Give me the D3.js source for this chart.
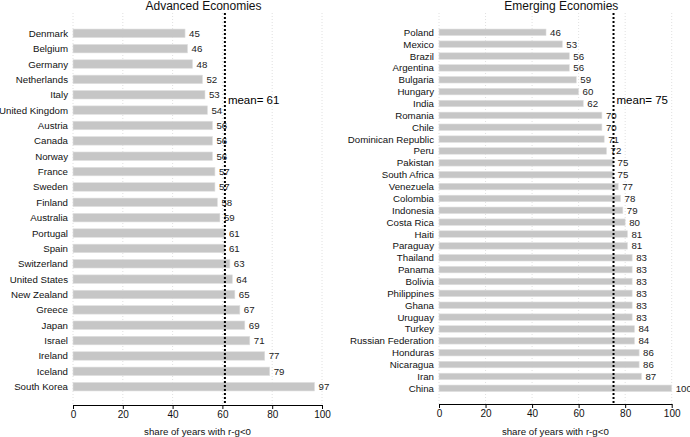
<!DOCTYPE html>
<html><head><meta charset="utf-8">
<script src="https://cdn.jsdelivr.net/npm/d3@7"></script>
<style>body{margin:0;background:#fff}svg{display:block;font-family:"Liberation Sans",Arial,Helvetica,sans-serif}</style>
</head><body>
<svg id="c" width="690" height="437"></svg>
<script>
const advCountries = ["Denmark","Belgium","Germany","Netherlands","Italy","United Kingdom","Austria","Canada","Norway","France","Sweden","Finland","Australia","Portugal","Spain","Switzerland","United States","New Zealand","Greece","Japan","Israel","Ireland","Iceland","South Korea"];
const advValues = [45,46,48,52,53,54,56,56,56,57,57,58,59,61,61,63,64,65,67,69,71,77,79,97];
const advMean = 61;
const emCountries = ["Poland","Mexico","Brazil","Argentina","Bulgaria","Hungary","India","Romania","Chile","Dominican Republic","Peru","Pakistan","South Africa","Venezuela","Colombia","Indonesia","Costa Rica","Haiti","Paraguay","Thailand","Panama","Bolivia","Philippines","Ghana","Uruguay","Turkey","Russian Federation","Honduras","Nicaragua","Iran","China"];
const emValues = [46,53,56,56,59,60,62,70,70,71,72,75,75,77,78,79,80,81,81,83,83,83,83,83,83,84,84,86,86,87,100];
const emMean = 75;
const xTicks = [0,20,40,60,80,100];
const titles = ["Advanced Economies","Emerging Economies"];
const axisTitle = "share of years with r-g<0";

const svg = d3.select("#c");

function panel(cfg){
  const g = svg.append("g");
  const x = d3.scaleLinear().domain([0,100]).range([cfg.x0,cfg.x1]);
  const y = d3.scalePoint().domain(cfg.cats).range([cfg.y0,cfg.y1]);
  // grid
  g.selectAll(".grid").data(xTicks).join("line")
    .attr("x1",d=>x(d)).attr("x2",d=>x(d)).attr("y1",13).attr("y2",cfg.axisY)
    .attr("stroke","#d8d8d8").attr("stroke-width",0.8).attr("stroke-dasharray","1,2");
  // bars
  g.selectAll(".bar").data(cfg.vals).join("rect")
    .attr("x",x(0)).attr("y",(d,i)=>y(cfg.cats[i])-cfg.bh/2)
    .attr("width",d=>x(d)-x(0)).attr("height",cfg.bh)
    .attr("fill","#c6c6c6").attr("stroke","#e0e0e0").attr("stroke-width",0.6);
  // mean line
  g.append("line").attr("x1",x(cfg.mean)).attr("x2",x(cfg.mean)).attr("y1",13).attr("y2",cfg.axisY+1)
    .attr("stroke","#000").attr("stroke-width",2).attr("stroke-dasharray","2,2");
  // value labels
  g.selectAll(".vl").data(cfg.vals).join("text")
    .attr("x",d=>x(d)+4).attr("y",(d,i)=>y(cfg.cats[i])+3.5)
    .attr("font-size",9.7).attr("fill","#222").text(d=>d);
  // category labels
  g.selectAll(".cl").data(cfg.cats).join("text")
    .attr("x",cfg.x0-5).attr("y",d=>y(d)+3.5).attr("text-anchor","end")
    .attr("font-size",9.7).attr("fill","#111").text(d=>d);
  // mean text
  g.append("text").attr("x",x(cfg.mean)+3).attr("y",104).attr("font-size",11.5).attr("fill","#000")
    .text("mean= "+cfg.mean);
  // axis
  const ax = g.append("g").attr("transform",`translate(0,${cfg.axisY})`)
    .call(d3.axisBottom(x).tickValues(xTicks).tickSize(4).tickPadding(2).tickSizeOuter(0));
  ax.select(".domain").attr("stroke","#000");
  ax.selectAll("text").attr("font-size",10).attr("font-family",'"Liberation Sans",Arial,sans-serif').attr("fill","#111");
  g.append("text").attr("x",(cfg.x0+cfg.x1)/2).attr("y",435).attr("text-anchor","middle")
    .attr("font-size",9.7).attr("fill","#111").text(axisTitle);
  g.append("text").attr("x",(cfg.x0+cfg.x1)/2+6).attr("y",10).attr("text-anchor","middle")
    .attr("font-size",12).attr("fill","#111").text(cfg.title);
}

panel({cats:advCountries, vals:advValues, mean:advMean, x0:73, x1:322, y0:33.3, y1:386.7, bh:8.5, axisY:405, title:titles[0]});
panel({cats:emCountries, vals:emValues, mean:emMean, x0:439, x1:671.7, y0:32.3, y1:388.3, bh:6.5, axisY:404, title:titles[1]});
</script>
</body></html>
